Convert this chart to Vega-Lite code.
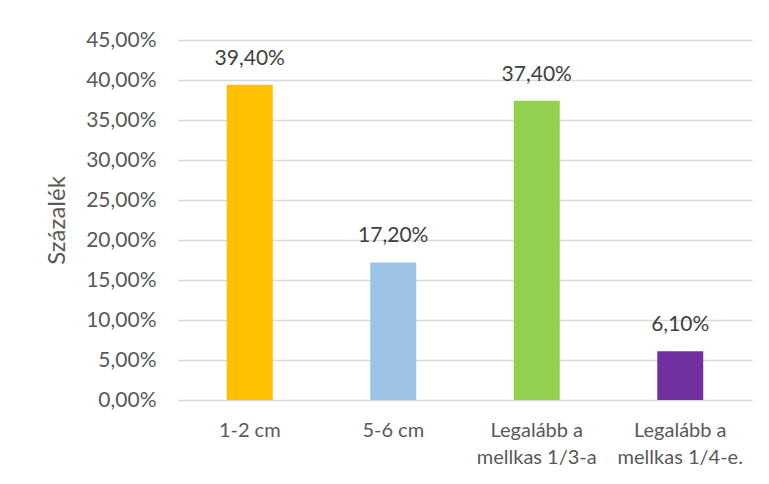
{
  "$schema": "https://vega.github.io/schema/vega-lite/v6.json",
  "width": 574,
  "height": 360,
  "autosize": {"type": "none"},
  "padding": {"left": 178, "top": 40, "right": 17, "bottom": 84},
  "background": "white",
  "data": {
    "values": [
      {"kategoria": "1-2 cm", "arany": 0.394, "szin": "#FFC000"},
      {"kategoria": "5-6 cm", "arany": 0.172, "szin": "#9DC3E6"},
      {"kategoria": "Legalább a mellkas 1/3-a", "arany": 0.374, "szin": "#92D050"},
      {"kategoria": "Legalább a mellkas 1/4-e.", "arany": 0.061, "szin": "#7030A0"}
    ]
  },
  "encoding": {
    "x": {
      "field": "kategoria",
      "type": "nominal",
      "sort": null,
      "scale": {"paddingInner": 0, "paddingOuter": 0},
      "axis": {
        "title": null,
        "labelAngle": 0,
        "ticks": false,
        "domain": false,
        "labelPadding": 20,
        "labelFont": "Lato",
        "labelFontSize": 20,
        "labelColor": "#595959",
        "labelLineHeight": 27,
        "labelExpr": "indexof(datum.label, ' mellkas') > 0 ? [substring(datum.label, 0, indexof(datum.label, ' mellkas')), substring(datum.label, indexof(datum.label, ' mellkas') + 1)] : datum.label"
      }
    },
    "y": {
      "field": "arany",
      "type": "quantitative",
      "scale": {"domain": [0, 0.45], "nice": false},
      "axis": {
        "title": "Százalék",
        "titleFont": "Lato",
        "titleFontSize": 24,
        "titleFontWeight": "normal",
        "titleColor": "#595959",
        "titlePadding": 16,
        "values": [0, 0.05, 0.1, 0.15, 0.2, 0.25, 0.3, 0.35, 0.4, 0.45],
        "format": ".2%",
        "labelFont": "Lato",
        "labelFontSize": 21,
        "labelColor": "#595959",
        "labelPadding": 22,
        "ticks": false,
        "domain": false,
        "grid": true,
        "gridColor": "#D9D9D9",
        "gridWidth": 1.5
      }
    }
  },
  "layer": [
    {
      "mark": {"type": "bar", "width": 46},
      "encoding": {
        "color": {"field": "szin", "type": "nominal", "scale": null, "legend": null}
      }
    },
    {
      "mark": {
        "type": "text",
        "baseline": "middle",
        "dy": -26,
        "font": "Lato",
        "fontSize": 21,
        "color": "#404040"
      },
      "encoding": {
        "text": {"field": "arany", "type": "quantitative", "format": ".2%"}
      }
    }
  ],
  "config": {
    "locale": {
      "number": {"decimal": ",", "thousands": " ", "grouping": [3], "currency": ["", " Ft"]}
    },
    "view": {"stroke": null},
    "axis": {"labelFontWeight": "normal"}
  }
}
